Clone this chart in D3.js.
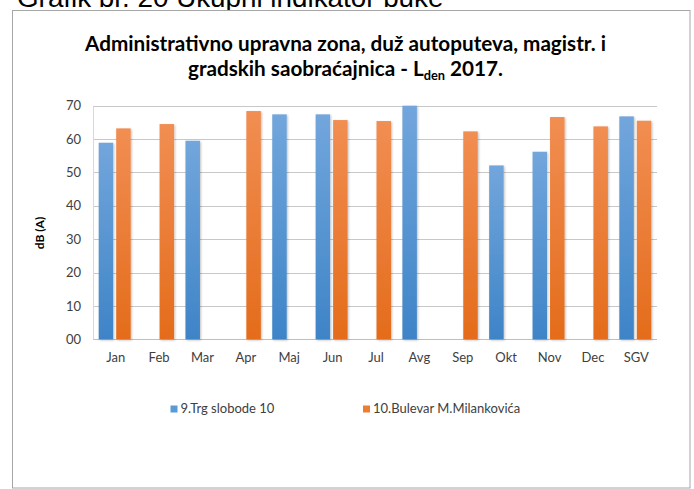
<!DOCTYPE html>
<html>
<head>
<meta charset="utf-8">
<script src="https://cdn.jsdelivr.net/npm/d3@7"></script>
<style>
  html, body { margin: 0; padding: 0; background: #fff; }
  svg { display: block; }
</style>
</head>
<body>
<svg id="chart" width="694" height="489"></svg>
<script>
const categories = ["Jan","Feb","Mar","Apr","Maj","Jun","Jul","Avg","Sep","Okt","Nov","Dec","SGV"];
const seriesNames = ["9.Trg slobode 10", "10.Bulevar M.Milankovića"];
const trgSlobode = [58.9, null, 59.5, null, 67.4, 67.4, null, 70.0, null, 52.1, 56.2, null, 66.8];
const bulevar    = [63.2, 64.5, null, 68.4, null, 65.7, 65.4, null, 62.3, null, 66.6, 63.8, 65.5];
const yTicks = [0, 10, 20, 30, 40, 50, 60, 70];
const yTickLabels = ["00", "10", "20", "30", "40", "50", "60", "70"];

const svg = d3.select("#chart");
const W = 694, H = 489;
const plot = { left: 93, right: 657, top: 105.7, bottom: 339.3 };

// heading text (partially cut off above)
svg.append("text")
  .attr("x", 17).attr("y", 7)
  .attr("font-family", "Liberation Sans, Arial, sans-serif")
  .attr("font-size", 27.8)
  .attr("fill", "#000")
  .text("Grafik br. 20 Ukupni indikator buke");

// chart frame
svg.append("rect")
  .attr("x", 12.5).attr("y", 10.5)
  .attr("width", 690 - 12.5).attr("height", 488 - 10.5)
  .attr("fill", "#fff").attr("stroke", "#a6a6a6").attr("stroke-width", 1);

const defs = svg.append("defs");
function grad(id, top, bottom) {
  const g = defs.append("linearGradient").attr("id", id)
    .attr("x1", 0).attr("y1", 0).attr("x2", 0).attr("y2", 1);
  g.append("stop").attr("offset", "0%").attr("stop-color", top);
  g.append("stop").attr("offset", "100%").attr("stop-color", bottom);
}
grad("gBlue", "#72a6dc", "#3e84c7");
grad("gOrange", "#f18e52", "#e46c1b");
const shadow = defs.append("filter").attr("id", "sh")
  .attr("x", "-20%").attr("y", "-5%").attr("width", "150%").attr("height", "110%");
shadow.append("feDropShadow").attr("dx", 1).attr("dy", 1).attr("stdDeviation", 1)
  .attr("flood-color", "#000").attr("flood-opacity", 0.25);

// title
const title = svg.append("g").attr("font-family", "Lato, sans-serif").attr("font-weight", "bold").attr("fill", "#000");
const t1 = title.append("text").attr("x", 345.5).attr("y", 51).attr("text-anchor", "middle")
  .attr("font-size", 20).text("Administrativno upravna zona, duž autoputeva, magistr. i");
const w1 = t1.node().getComputedTextLength();
const fs = 20 * 521 / w1;
t1.attr("font-size", fs);
const t2 = title.append("text").attr("x", 345.5).attr("y", 76).attr("text-anchor", "middle")
  .attr("font-size", fs);
t2.append("tspan").text("gradskih saobraćajnica - L");
t2.append("tspan").attr("font-size", fs * 0.62).attr("dy", 4).text("den");
t2.append("tspan").attr("dy", -4).text(" 2017.");

// scales
const x = d3.scaleBand().domain(categories).range([plot.left, plot.right]).padding(0);
const gap = 11.4;
const xs = d3.scaleBand().domain(seriesNames)
  .range([gap / 2, x.bandwidth() - gap / 2]).paddingInner(0.171).paddingOuter(0);
const y = d3.scaleLinear().domain([0, 70]).range([plot.bottom, plot.top]);

// gridlines
svg.append("g").selectAll("line").data(yTicks).join("line")
  .attr("x1", plot.left).attr("x2", plot.right)
  .attr("y1", d => Math.round(y(d)) + 0.5).attr("y2", d => Math.round(y(d)) + 0.5)
  .attr("stroke", d => d === 0 ? "#bfbfbf" : "#c8c8c8").attr("stroke-width", 1);
// left plot edge
svg.append("line").attr("x1", plot.left + 0.5).attr("x2", plot.left + 0.5)
  .attr("y1", Math.round(y(70)) + 0.5).attr("y2", Math.round(y(0)) + 0.5)
  .attr("stroke", "#d9d9d9");

// y axis labels
const yAxis = d3.axisLeft(y).tickValues(yTicks)
  .tickFormat((d, i) => yTickLabels[i]).tickSize(0).tickPadding(0);
const ya = svg.append("g").attr("transform", `translate(81,0)`).call(yAxis);
ya.select(".domain").remove();
ya.selectAll("text").attr("font-family", "Lato, sans-serif").attr("font-size", 13).attr("fill", "#404040");

// x axis labels
const xAxis = d3.axisBottom(x).tickSize(0).tickPadding(0);
const xa = svg.append("g").attr("transform", `translate(1,${plot.bottom + 13})`).call(xAxis);
xa.select(".domain").remove();
xa.selectAll("text").attr("font-family", "Lato, sans-serif").attr("font-size", 13).attr("fill", "#404040");

// y title
svg.append("text")
  .attr("transform", "translate(44,233) rotate(-90)")
  .attr("text-anchor", "middle")
  .attr("font-family", "Lato, sans-serif").attr("font-weight", "bold")
  .attr("font-size", 12).attr("fill", "#000")
  .text("dB (A)");

// bars
const series = [
  { name: seriesNames[0], values: trgSlobode, fill: "url(#gBlue)" },
  { name: seriesNames[1], values: bulevar, fill: "url(#gOrange)" }
];
series.forEach(s => {
  svg.append("g").selectAll("rect")
    .data(categories.map((c, i) => ({ c, v: s.values[i] })).filter(d => d.v != null))
    .join("rect")
    .attr("x", d => x(d.c) + xs(s.name))
    .attr("width", xs.bandwidth())
    .attr("y", d => y(d.v))
    .attr("height", d => y(0) - y(d.v))
    .attr("fill", s.fill)
    .attr("filter", "url(#sh)");
});

// legend
const legendColors = ["#5b9bd5", "#ed7d31"];
const legendX = [170.5, 363];
const leg = svg.append("g");
seriesNames.forEach((n, i) => {
  leg.append("rect").attr("x", legendX[i]).attr("y", 405.5).attr("width", 7).attr("height", 7)
    .attr("fill", legendColors[i]);
  leg.append("text").attr("x", legendX[i] + 10).attr("y", 412.5)
    .attr("font-family", "Lato, sans-serif").attr("font-size", 13).attr("fill", "#404040")
    .text(n);
});
</script>
</body>
</html>
